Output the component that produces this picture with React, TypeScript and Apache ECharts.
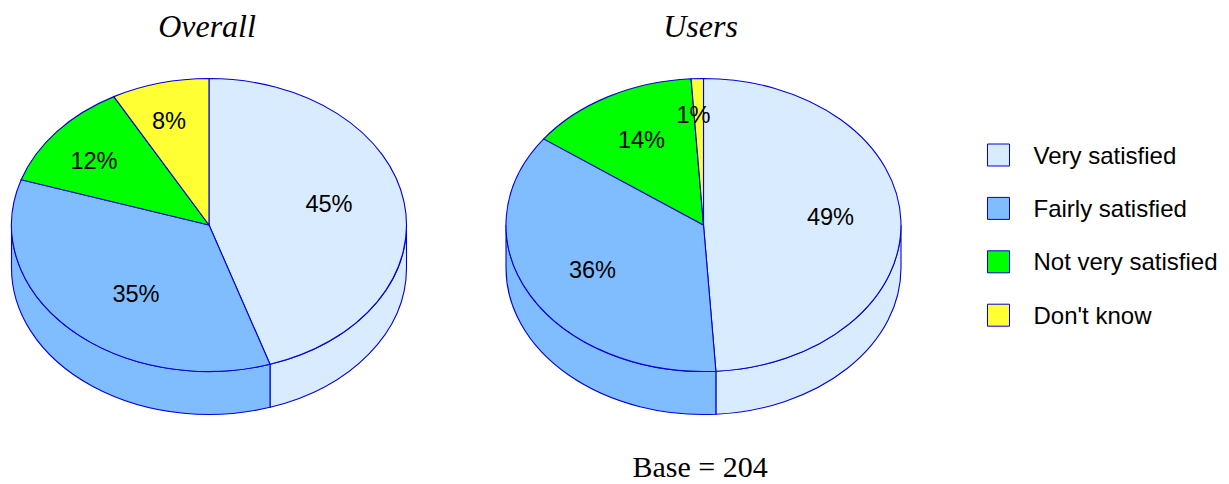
import React, { useEffect, useRef } from "react";
import * as echarts from "echarts";

const pieNames = ["Overall", "Users"];
const categories = ["Very satisfied", "Fairly satisfied", "Not very satisfied", "Don't know"];
const verySatisfied = [45, 49];
const fairlySatisfied = [35, 36];
const notVerySatisfied = [12, 14];
const dontKnow = [8, 1];
const seriesValues = [verySatisfied, fairlySatisfied, notVerySatisfied, dontKnow];
const sliceColors = ["#D9ECFF", "#80BDFF", "#00FF00", "#FFFF33"];
const baseNote = "Base = 204";

const EDGE = "#0000D8";
const centers = [209, 703.5];
const CY = 225;
const RX = 197.5;
const RY = 146.5;
const DEPTH = 43;
const LABEL_FONT = '23.6px "Liberation Sans", Arial, sans-serif';
const SERIF = '"Liberation Serif", serif';

// label offsets from each pie's centre, [pie][category]
const labelOffsets = [
  [[120, -21], [-73, 69], [-115, -64], [-40, -104]],
  [[127, -8], [-111, 45], [-62, -85], [-10, -110]],
];

const pt = (cx: number, t: number, dy = 0): [number, number] => [
  cx + RX * Math.sin(t),
  CY - RY * Math.cos(t) + dy,
];

function renderSlice(cat: number) {
  return (params: any, api: any) => {
    const pie = params.dataIndex;
    const cx = centers[pie];
    let before = 0;
    for (let i = 0; i < cat; i++) before += seriesValues[i][pie];
    const value = api.value(0);
    const a0 = (before / 100) * Math.PI * 2;
    const a1 = ((before + value) / 100) * Math.PI * 2;
    const style = { fill: sliceColors[cat], stroke: EDGE, lineWidth: 1.1 };
    const children: any[] = [];

    const s0 = Math.max(a0, Math.PI / 2);
    const s1 = Math.min(a1, (Math.PI * 3) / 2);
    if (s1 > s0) {
      const [x0, y0] = pt(cx, s0);
      const [x1, y1] = pt(cx, s1);
      const large = s1 - s0 > Math.PI ? 1 : 0;
      children.push({
        type: "path",
        z2: 1,
        shape: {
          pathData:
            `M${x0} ${y0}A${RX} ${RY} 0 ${large} 1 ${x1} ${y1}` +
            `L${x1} ${y1 + DEPTH}A${RX} ${RY} 0 ${large} 0 ${x0} ${y0 + DEPTH}Z`,
        },
        style,
      });
    }

    const [tx0, ty0] = pt(cx, a0);
    const [tx1, ty1] = pt(cx, a1);
    const largeTop = a1 - a0 > Math.PI ? 1 : 0;
    children.push({
      type: "path",
      z2: 2,
      shape: {
        pathData: `M${cx} ${CY}L${tx0} ${ty0}A${RX} ${RY} 0 ${largeTop} 1 ${tx1} ${ty1}Z`,
      },
      style,
    });

    const [ox, oy] = labelOffsets[pie][cat];
    children.push({
      type: "text",
      z2: 10,
      style: {
        text: `${value}%`,
        x: cx + ox,
        y: CY + oy,
        font: LABEL_FONT,
        fill: "#000",
        textAlign: "center",
        textVerticalAlign: "middle",
      },
    });
    return { type: "group", children };
  };
}

export default function App() {
  const ref = useRef<HTMLDivElement>(null);
  useEffect(() => {
    const chart = echarts.init(ref.current!, null, { renderer: "svg" });
    const titleStyle = {
      fontFamily: SERIF,
      fontStyle: "italic" as const,
      fontWeight: "normal" as const,
      fontSize: 32,
      color: "#000",
    };
    chart.setOption({
      animation: false,
      backgroundColor: "#fff",
      title: [
        { text: pieNames[0], left: 207, top: 10, textAlign: "center", padding: 0, textStyle: titleStyle },
        { text: pieNames[1], left: 700.5, top: 10, textAlign: "center", padding: 0, textStyle: titleStyle },
        {
          text: baseNote,
          left: 700,
          top: 451,
          textAlign: "center",
          padding: 0,
          textStyle: { fontFamily: SERIF, fontWeight: "normal", fontSize: 30, color: "#000" },
        },
      ],
      legend: {
        orient: "vertical",
        left: 987,
        top: 143,
        padding: 0,
        itemWidth: 22,
        itemHeight: 22,
        itemGap: 29.4,
        icon: "rect",
        selectedMode: false,
        data: categories.map((name, i) => ({
          name,
          itemStyle: { color: sliceColors[i], borderColor: EDGE, borderWidth: 1 },
        })),
        textStyle: {
          fontFamily: '"Liberation Sans", Arial, sans-serif',
          fontSize: 24,
          color: "#000",
          padding: [0, 0, 0, 19],
        },
      },
      series: categories.map((name, i) => ({
        type: "custom",
        name,
        coordinateSystem: "none",
        silent: true,
        itemStyle: { color: sliceColors[i], borderColor: EDGE, borderWidth: 1 },
        data: seriesValues[i].map((v) => [v]),
        renderItem: renderSlice(i),
      })),
    });
    return () => chart.dispose();
  }, []);
  return (
    <div
      ref={ref}
      style={{ position: "absolute", left: 0, top: 0, width: 1229, height: 484 }}
    />
  );
}
